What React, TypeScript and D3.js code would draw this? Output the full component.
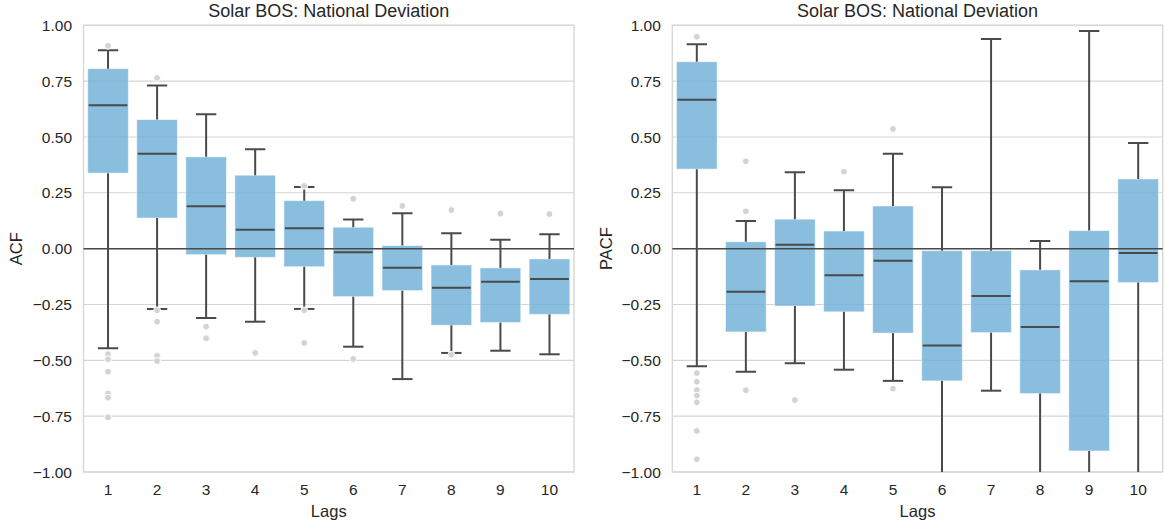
import React from "react";
import * as d3 from "d3";

const lags = ["1", "2", "3", "4", "5", "6", "7", "8", "9", "10"];
const yTicks = [-1, -0.75, -0.5, -0.25, 0, 0.25, 0.5, 0.75, 1];

// ACF panel
const acfWhiskerHigh = [0.888, 0.73, 0.602, 0.445, 0.276, 0.13, 0.158, 0.069, 0.04, 0.064];
const acfQ3 = [0.806, 0.578, 0.411, 0.329, 0.215, 0.096, 0.014, -0.073, -0.086, -0.046];
const acfMedian = [0.642, 0.425, 0.19, 0.085, 0.091, -0.016, -0.085, -0.175, -0.148, -0.136];
const acfQ1 = [0.338, 0.137, -0.027, -0.039, -0.081, -0.215, -0.188, -0.343, -0.331, -0.294];
const acfWhiskerLow = [-0.446, -0.27, -0.31, -0.327, -0.27, -0.439, -0.584, -0.467, -0.457, -0.473];
const acfOutliers = [
  [0.908, -0.472, -0.495, -0.551, -0.648, -0.667, -0.755],
  [0.764, -0.276, -0.327, -0.479, -0.503],
  [-0.349, -0.401],
  [-0.467],
  [0.281, -0.276, -0.422],
  [0.223, -0.494],
  [0.191],
  [0.173, -0.475],
  [0.157],
  [0.155],
];

// PACF panel
const pacfWhiskerHigh = [0.915, 0.124, 0.342, 0.261, 0.425, 0.275, 0.939, 0.034, 0.974, 0.473];
const pacfQ3 = [0.837, 0.031, 0.132, 0.079, 0.191, -0.009, -0.009, -0.095, 0.081, 0.312];
const pacfMedian = [0.667, -0.193, 0.018, -0.119, -0.054, -0.434, -0.212, -0.351, -0.146, -0.019];
const pacfQ1 = [0.356, -0.373, -0.257, -0.283, -0.378, -0.592, -0.376, -0.649, -0.906, -0.152];
const pacfWhiskerLow = [-0.527, -0.551, -0.513, -0.542, -0.592, -1.05, -0.636, -1.05, -1.05, -1.05];
const pacfOutliers = [
  [0.949, -0.557, -0.596, -0.633, -0.658, -0.688, -0.816, -0.943],
  [0.391, 0.167, -0.634],
  [-0.678],
  [0.345],
  [0.536, -0.627],
  [],
  [],
  [],
  [],
  [],
];

const TITLE = "Solar BOS: National Deviation";
const FONT = "'Liberation Sans', Arial, Helvetica, sans-serif";
const TEXT = "#262626";
const GRID = "#d5d5d5";
const BOX = "rgb(107,174,214)";
const LINE = "#4a4a4a";

type PanelProps = {
  x0: number;
  x1: number;
  ylabel: string;
  ylabelX: number;
  id: string;
  q1: number[];
  med: number[];
  q3: number[];
  wl: number[];
  wh: number[];
  out: number[][];
};

const Y0 = 25.3;
const Y1 = 472;

function Panel(p: PanelProps) {
  const x = d3.scaleBand<string>().domain(lags).range([p.x0, p.x1]).padding(0);
  const y = d3.scaleLinear().domain([-1, 1]).range([Y1, Y0]);
  const bw = x.bandwidth() * 0.83;
  const cw = bw * 0.5;
  const fmt = d3.format(".2f");
  const cx = (l: string) => (x(l) as number) + x.bandwidth() / 2;
  return (
    <g>
      <defs>
        <clipPath id={p.id}>
          <rect x={p.x0} y={Y0} width={p.x1 - p.x0} height={Y1 - Y0} />
        </clipPath>
      </defs>
      {yTicks.map((t) => (
        <line key={"g" + t} x1={p.x0} x2={p.x1} y1={y(t)} y2={y(t)} stroke={GRID} strokeWidth={1.1} />
      ))}
      <rect x={p.x0} y={Y0} width={p.x1 - p.x0} height={Y1 - Y0} fill="none" stroke={GRID} strokeWidth={1.3} />
      <g clipPath={`url(#${p.id})`}>
        {lags.map((l, i) => {
          const c = cx(l);
          return (
            <g key={l}>
              <rect
                x={c - bw / 2}
                y={y(p.q3[i])}
                width={bw}
                height={y(p.q1[i]) - y(p.q3[i])}
                fill={BOX}
                fillOpacity={0.8}
                stroke="rgba(255,255,255,0.55)"
                strokeWidth={1}
              />
              <line x1={c} x2={c} y1={y(p.q3[i])} y2={y(p.wh[i])} stroke={LINE} strokeWidth={2} />
              <line x1={c} x2={c} y1={y(p.q1[i])} y2={y(p.wl[i])} stroke={LINE} strokeWidth={2} />
              <line x1={c - cw / 2} x2={c + cw / 2} y1={y(p.wh[i])} y2={y(p.wh[i])} stroke={LINE} strokeWidth={2} />
              <line x1={c - cw / 2} x2={c + cw / 2} y1={y(p.wl[i])} y2={y(p.wl[i])} stroke={LINE} strokeWidth={2} />
              <line x1={c - bw / 2 + 1} x2={c + bw / 2 - 1} y1={y(p.med[i])} y2={y(p.med[i])} stroke={LINE} strokeWidth={2} />
              {p.out[i].map((v, k) => (
                <circle key={k} cx={c} cy={y(v)} r={3.4} fill="#d3d3d3" stroke="#ffffff" strokeWidth={1} />
              ))}
            </g>
          );
        })}
      </g>
      <line x1={p.x0} x2={p.x1} y1={y(0)} y2={y(0)} stroke={LINE} strokeWidth={1.5} />
      {yTicks.map((t) => (
        <text key={"t" + t} x={p.x0 - 11.5} y={y(t)} dy="0.36em" textAnchor="end" fontSize={15.5} fill={TEXT} fontFamily={FONT}>
          {fmt(t)}
        </text>
      ))}
      {lags.map((l) => (
        <text key={"x" + l} x={cx(l)} y={495} textAnchor="middle" fontSize={15.5} fill={TEXT} fontFamily={FONT}>
          {l}
        </text>
      ))}
      <text x={(p.x0 + p.x1) / 2} y={517} textAnchor="middle" fontSize={16.5} fill={TEXT} fontFamily={FONT}>
        Lags
      </text>
      <text
        transform={`translate(${p.ylabelX},${(Y0 + Y1) / 2}) rotate(-90)`}
        textAnchor="middle"
        fontSize={16.5}
        fill={TEXT}
        fontFamily={FONT}
      >
        {p.ylabel}
      </text>
      <text x={(p.x0 + p.x1) / 2} y={17} textAnchor="middle" fontSize={18} fill={TEXT} fontFamily={FONT}>
        {TITLE}
      </text>
    </g>
  );
}

export default function App() {
  return (
    <svg
      width={1165}
      height={527}
      style={{ position: "absolute", left: 0, top: 0, display: "block", background: "#fff" }}
    >
      <Panel
        id="clipL"
        x0={83.5}
        x1={574}
        ylabel="ACF"
        ylabelX={22}
        q1={acfQ1}
        med={acfMedian}
        q3={acfQ3}
        wl={acfWhiskerLow}
        wh={acfWhiskerHigh}
        out={acfOutliers}
      />
      <Panel
        id="clipR"
        x0={672.3}
        x1={1162.7}
        ylabel="PACF"
        ylabelX={611.5}
        q1={pacfQ1}
        med={pacfMedian}
        q3={pacfQ3}
        wl={pacfWhiskerLow}
        wh={pacfWhiskerHigh}
        out={pacfOutliers}
      />
    </svg>
  );
}
